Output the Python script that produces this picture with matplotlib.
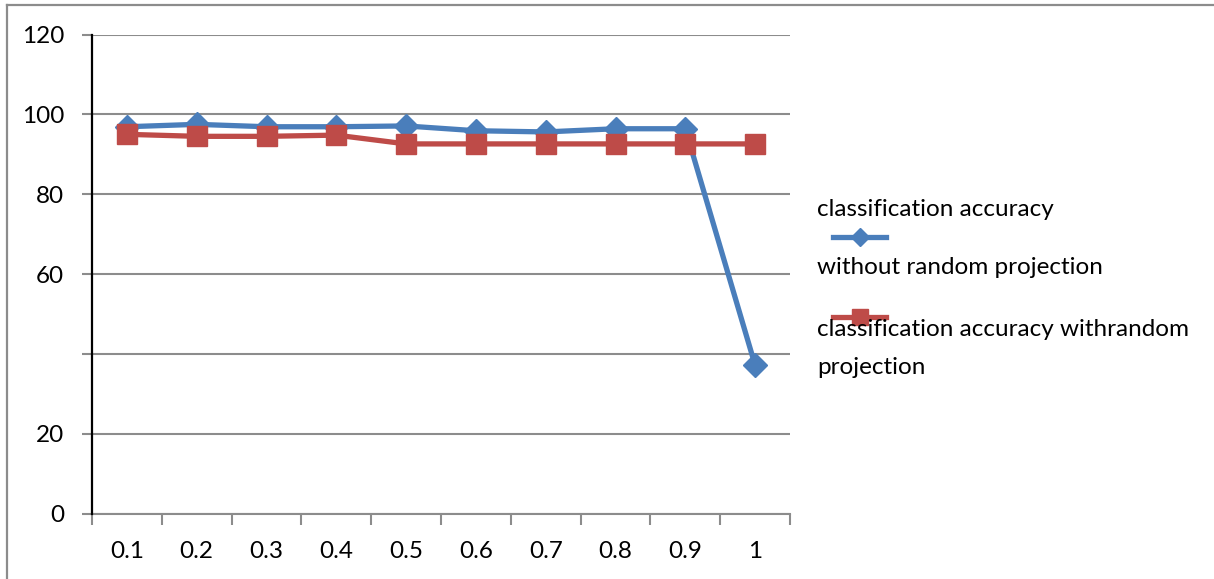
import matplotlib
matplotlib.use("Agg")
import matplotlib.pyplot as plt
from matplotlib.lines import Line2D

# Data
categories = ["0.1", "0.2", "0.3", "0.4", "0.5", "0.6", "0.7", "0.8", "0.9", "1"]
acc_without_rp = [96.9, 97.5, 96.9, 96.9, 97.1, 95.9, 95.6, 96.4, 96.4, 37.2]
acc_with_rp = [95.0, 94.5, 94.5, 94.8, 92.6, 92.6, 92.6, 92.6, 92.6, 92.6]
y_ticks = [0, 20, 40, 60, 80, 100, 120]
y_tick_labels = ["0", "20", "", "60", "80", "100", "120"]
legend_without = ["classification accuracy", "without random projection"]
legend_with = ["classification accuracy withrandom", "projection"]

W, H = 1214, 579
plt.rcParams["font.family"] = ["Lato", "DejaVu Sans"]

fig = plt.figure(figsize=(W / 100, H / 100), dpi=100)
fig.patch.set_facecolor("white")


def fx(px):
    return px / W


def fy(py):
    return 1 - py / H


# Outer chart frame (top and left edges)
frame_color = "#8c8c8c"
fig.add_artist(Line2D([fx(7), fx(W)], [fy(5), fy(5)], color=frame_color, lw=1.6))
fig.add_artist(Line2D([fx(7), fx(7)], [fy(5), fy(H)], color=frame_color, lw=1.6))

ax = fig.add_axes([fx(92), fy(513.7), fx(790) - fx(92), fy(34.5) - fy(513.7)])
x = list(range(len(categories)))

grid_color = "#8c8c8c"
ax.set_xlim(-0.5, len(categories) - 0.5)
ax.set_ylim(0, 120)
ax.set_yticks(y_ticks)
ax.set_yticklabels(y_tick_labels)
ax.yaxis.grid(True, color=grid_color, lw=1.5)
ax.set_axisbelow(True)

for s in ["top", "right"]:
    ax.spines[s].set_visible(False)
ax.spines["left"].set_color("black")
ax.spines["left"].set_linewidth(1.6)
ax.spines["left"].set_zorder(3)
ax.spines["bottom"].set_color(grid_color)
ax.spines["bottom"].set_linewidth(1.5)

fs = 17.5

# Category labels centered, tick marks between categories
ax.set_xticks(x)
ax.set_xticklabels(categories)
ax.set_xticks([i - 0.5 for i in range(len(categories) + 1)], minor=True)
ax.tick_params(axis="x", which="major", length=0, pad=20, labelsize=fs)
ax.tick_params(axis="x", which="minor", length=8, width=1.5, color=grid_color, direction="out")
ax.tick_params(axis="y", length=7, width=1.5, color=grid_color, pad=13, labelsize=fs)

blue = "#4a7ebb"
red = "#be4b48"
ax.plot(x, acc_without_rp, color=blue, lw=3.8, marker="D", markersize=12.5,
        markeredgecolor=blue, zorder=4, clip_on=False)
ax.plot(x, acc_with_rp, color=red, lw=3.8, marker="s", markersize=14.5,
        markeredgecolor=red, zorder=5, clip_on=False)

# Legend drawn at the right of the plot area
fig.text(fx(817), fy(210), legend_without[0], fontsize=fs, va="center", ha="left")
fig.add_artist(Line2D([fx(833), fx(886)], [fy(236.7), fy(236.7)], color=blue, lw=3.8))
fig.add_artist(Line2D([fx(859.5)], [fy(236.7)], color=blue, marker="D", markersize=9,
                      markeredgecolor=blue))
fig.text(fx(817), fy(268), legend_without[1], fontsize=fs, va="center", ha="left")

fig.add_artist(Line2D([fx(833), fx(886)], [fy(317), fy(317)], color=red, lw=3.8))
fig.add_artist(Line2D([fx(859.5)], [fy(317)], color=red, marker="s", markersize=12,
                      markeredgecolor=red))
fig.text(fx(817), fy(330), legend_with[0], fontsize=fs, va="center", ha="left")
fig.text(fx(817), fy(368), legend_with[1], fontsize=fs, va="center", ha="left")

fig.savefig("out.png", dpi=100, facecolor="white")
